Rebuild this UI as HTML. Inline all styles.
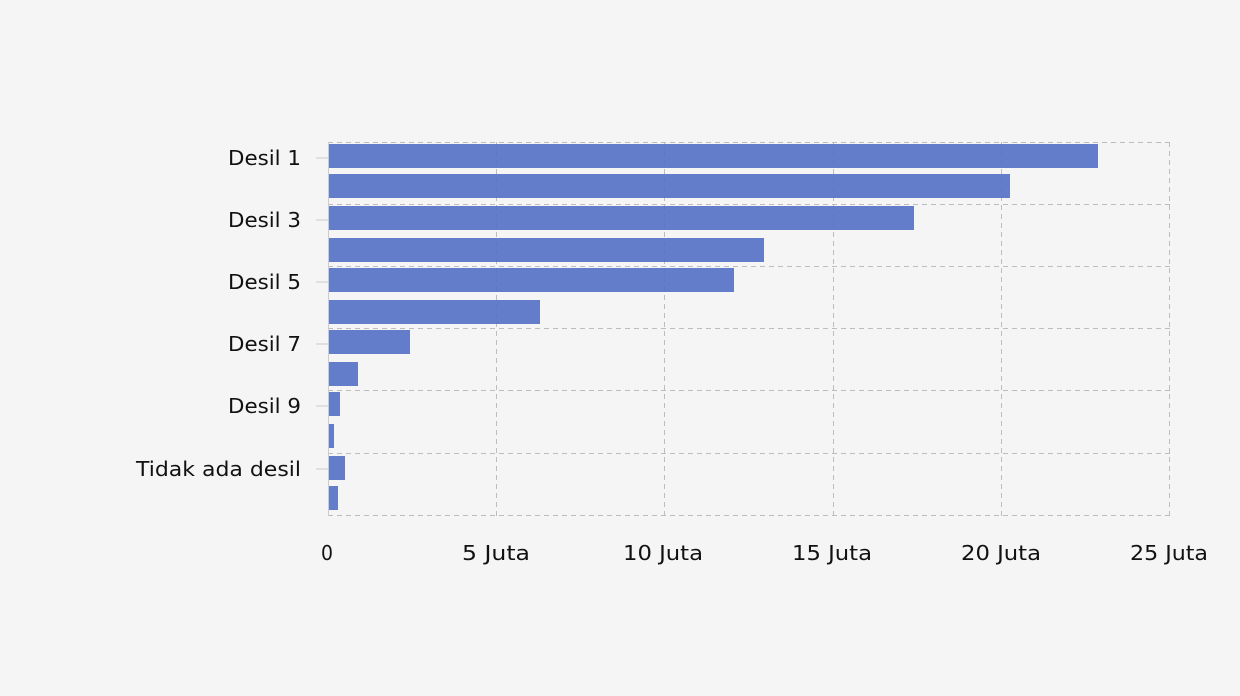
<!DOCTYPE html>
<html><head><style>html,body{margin:0;padding:0;background:#f5f5f5;width:1240px;height:696px;overflow:hidden}svg{display:block}</style></head><body>
<svg width="1240" height="696" xmlns="http://www.w3.org/2000/svg" font-family="DejaVu Sans, Liberation Sans, sans-serif">
<rect width="1240" height="696" fill="#f5f5f5"/>
<g stroke="#bdbdbd" stroke-width="1" stroke-dasharray="5,4" fill="none">
<line x1="328" y1="142.5" x2="1170" y2="142.5"/>
<line x1="328" y1="204.5" x2="1170" y2="204.5"/>
<line x1="328" y1="266.5" x2="1170" y2="266.5"/>
<line x1="328" y1="328.5" x2="1170" y2="328.5"/>
<line x1="328" y1="390.5" x2="1170" y2="390.5"/>
<line x1="328" y1="453.5" x2="1170" y2="453.5"/>
<line x1="328" y1="515.5" x2="1170" y2="515.5"/>
<line x1="496.5" y1="142" x2="496.5" y2="516"/>
<line x1="664.5" y1="142" x2="664.5" y2="516"/>
<line x1="833.5" y1="142" x2="833.5" y2="516"/>
<line x1="1001.5" y1="142" x2="1001.5" y2="516"/>
<line x1="1169.5" y1="142" x2="1169.5" y2="516"/>
</g>
<line x1="328.5" y1="142" x2="328.5" y2="516" stroke="#cccccc"/>
<g stroke="#cccccc">
<line x1="316" y1="158" x2="328" y2="158"/>
<line x1="316" y1="220" x2="328" y2="220"/>
<line x1="316" y1="282" x2="328" y2="282"/>
<line x1="316" y1="344" x2="328" y2="344"/>
<line x1="316" y1="406" x2="328" y2="406"/>
<line x1="316" y1="469" x2="328" y2="469"/>
</g>
<g fill="#5470c6" fill-opacity="0.9">
<rect x="329" y="144" width="769" height="24"/>
<rect x="329" y="174" width="681" height="24"/>
<rect x="329" y="206" width="585" height="24"/>
<rect x="329" y="238" width="435" height="24"/>
<rect x="329" y="268" width="405" height="24"/>
<rect x="329" y="300" width="211" height="24"/>
<rect x="329" y="330" width="81" height="24"/>
<rect x="329" y="362" width="29" height="24"/>
<rect x="329" y="392" width="11" height="24"/>
<rect x="329" y="424" width="5" height="24"/>
<rect x="329" y="456" width="16" height="24"/>
<rect x="329" y="486" width="9" height="24"/>
</g>
<g font-size="20" fill="#111">
<text x="228" y="165" textLength="73" lengthAdjust="spacingAndGlyphs">Desil 1</text>
<text x="228" y="227" textLength="73" lengthAdjust="spacingAndGlyphs">Desil 3</text>
<text x="228" y="289" textLength="73" lengthAdjust="spacingAndGlyphs">Desil 5</text>
<text x="228" y="351" textLength="73" lengthAdjust="spacingAndGlyphs">Desil 7</text>
<text x="228" y="413" textLength="73" lengthAdjust="spacingAndGlyphs">Desil 9</text>
<text x="136" y="476" textLength="165" lengthAdjust="spacingAndGlyphs">Tidak ada desil</text>
<text x="321" y="560" textLength="12" lengthAdjust="spacingAndGlyphs">0</text>
<text x="462" y="560" textLength="68" lengthAdjust="spacingAndGlyphs">5 Juta</text>
<text x="623" y="560" textLength="80" lengthAdjust="spacingAndGlyphs">10 Juta</text>
<text x="792" y="560" textLength="80" lengthAdjust="spacingAndGlyphs">15 Juta</text>
<text x="961" y="560" textLength="80" lengthAdjust="spacingAndGlyphs">20 Juta</text>
<text x="1130" y="560" textLength="78" lengthAdjust="spacingAndGlyphs">25 Juta</text>
</g>
</svg>
</body></html>
